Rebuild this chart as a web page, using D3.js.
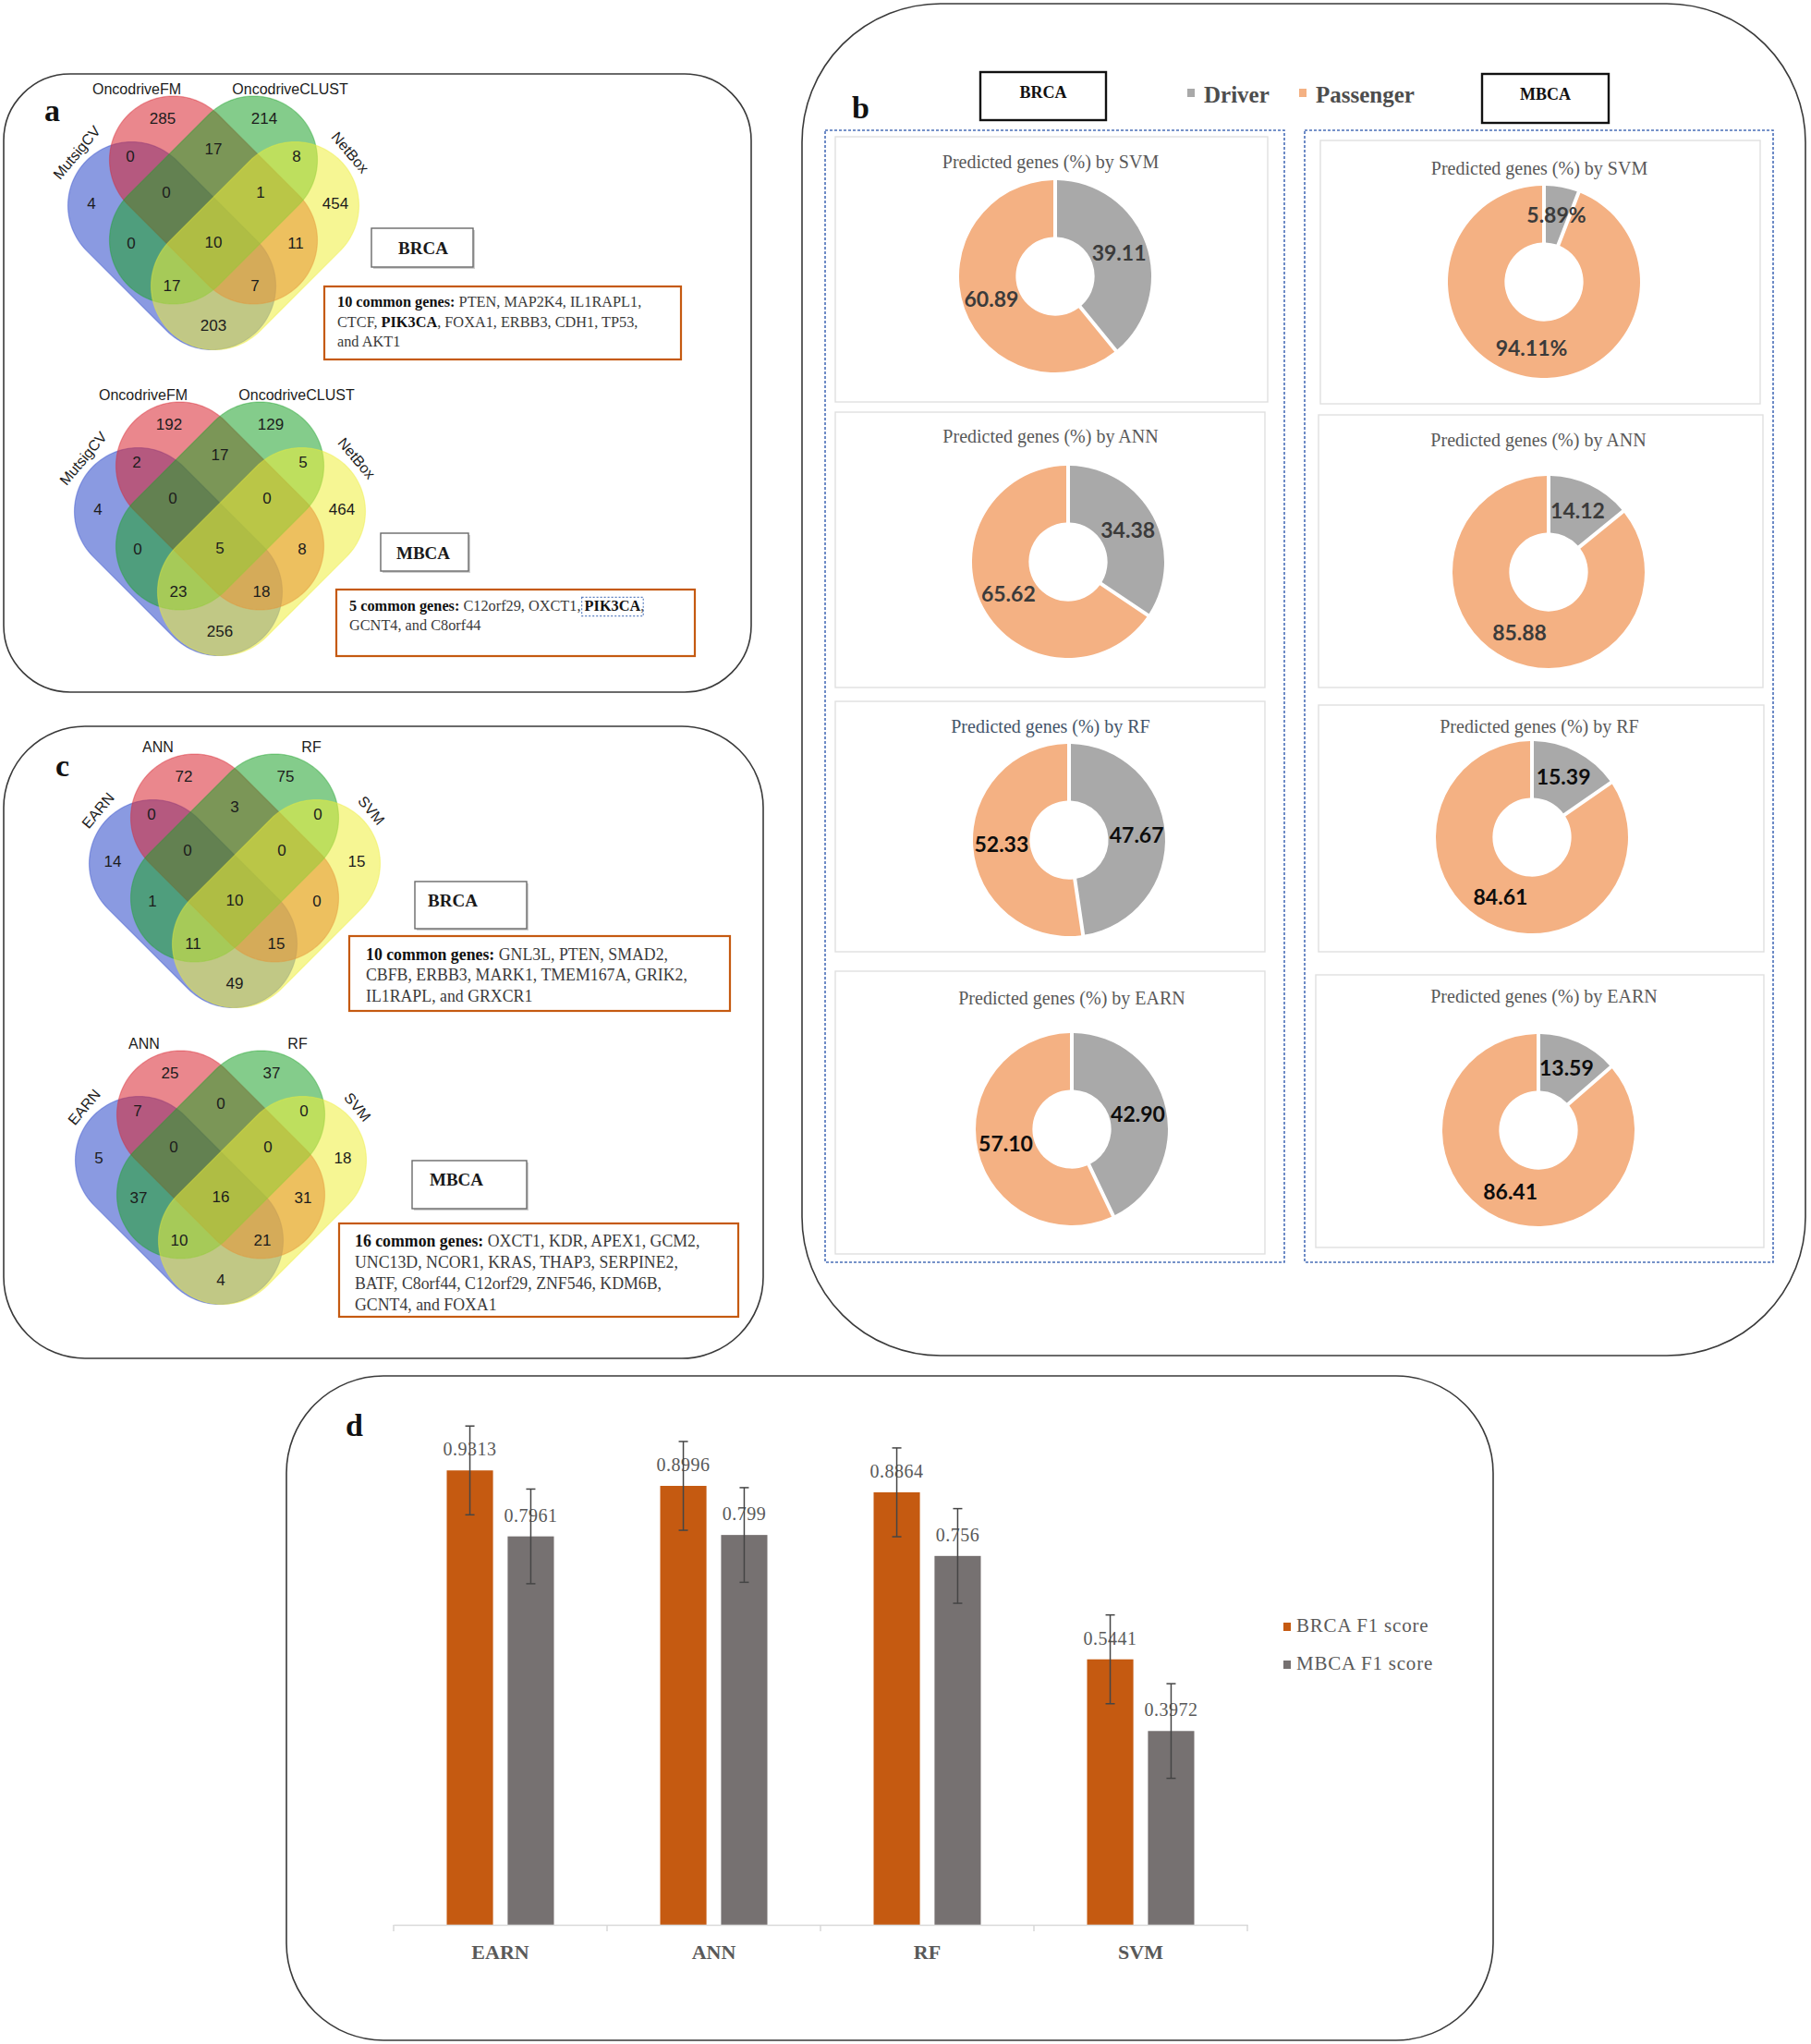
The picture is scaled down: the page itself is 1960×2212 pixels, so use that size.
<!DOCTYPE html>
<html>
<head>
<meta charset="utf-8">
<title>Driver gene prediction summary</title>
<script src="https://d3js.org/d3.v7.min.js"></script>
<style>
body { margin: 0; background: #fff; }
text { white-space: pre; }
</style>
</head>
<body>
<svg id="fig" width="1960" height="2212"></svg>
<script>
// ---------- data ----------
// venn regions: B=left set, R=top-left set, G=top-right set, Y=right set
var regionKeys = ["B","R","G","Y","BR","RG","GY","BG","RY","BY","BRG","RGY","BGY","BRY","BRGY"];

var toolSets = ["MutsigCV","OncodriveFM","OncodriveCLUST","NetBox"];
var brcaToolCounts = [4,285,214,454,0,17,8,0,11,203,0,1,17,7,10];
var mbcaToolCounts = [4,192,129,464,2,17,5,0,8,256,0,0,23,18,5];

var modelSets = ["EARN","ANN","RF","SVM"];
var brcaModelCounts = [14,72,75,15,0,3,0,1,0,49,0,0,11,15,10];
var mbcaModelCounts = [5,25,37,18,7,0,0,37,31,4,0,0,10,21,16];

var donutModels = ["SVM","ANN","RF","EARN"];
var brcaDriver = [39.11,34.38,47.67,42.90];
var brcaPassenger = [60.89,65.62,52.33,57.10];
var mbcaDriver = [5.89,14.12,15.39,13.59];
var mbcaPassenger = [94.11,85.88,84.61,86.41];
var mbcaSuffix = ["%","","",""];

var f1Models = ["EARN","ANN","RF","SVM"];
var f1Series = ["BRCA F1 score","MBCA F1 score"];
var brcaF1 = [0.9313,0.8996,0.8864,0.5441];
var mbcaF1 = [0.7961,0.799,0.756,0.3972];
var brcaF1Err = [0.091,0.091,0.091,0.091];
var mbcaF1Err = [0.097,0.097,0.097,0.097];

// ---------- layout ----------
var svg = d3.select("#fig");
var SERIF = "Liberation Serif, Times New Roman, serif";
var SANS = "Liberation Sans, Arial, sans-serif";

function panel(x, y, w, h, r) {
  svg.append("rect").attr("x", x).attr("y", y).attr("width", w).attr("height", h)
    .attr("rx", r).attr("ry", r)
    .attr("fill", "none").attr("stroke", "#3a3a3a").attr("stroke-width", 1.6);
}
function letter(t, x, y) {
  svg.append("text").attr("x", x).attr("y", y).text(t)
    .attr("font-family", SERIF).attr("font-weight", "bold").attr("font-size", 34).attr("fill", "#111");
}

panel(4, 80, 809, 669, 72);
panel(4, 786, 822, 684, 88);
panel(868, 4, 1086, 1463, 150);
panel(310, 1489, 1306, 719, 105);

letter("a", 48, 131);
letter("b", 922, 128);
letter("c", 60, 840);
letter("d", 374, 1554);

// ---------- venn: four capsules, local px around the four-way region ----------
var vennShapes = [
  {cx: -45, cy: 4, dir: 1, color: "#2a47c9"},
  {cx: 0, cy: -45.5, dir: 1, color: "#d8252f"},
  {cx: 0, cy: -45.5, dir: -1, color: "#1fa32b"},
  {cx: 45, cy: 4, dir: -1, color: "#eeee3a"}
];
var capHalf = 61.5, capR = 69;
var regionPos = {
  B: [-132, -42], R: [-55, -134], G: [55, -134], Y: [132, -42],
  BR: [-90, -93], RG: [0, -101], GY: [90, -93],
  BG: [-89, 1], RY: [89, 1], BY: [0, 90],
  BRG: [-51, -54], RGY: [51, -54], BGY: [-45, 47], BRY: [45, 47],
  BRGY: [0, 0]
};
var setLabelPos = [[-148, -97, -50], [-83, -166, 0], [83, -166, 0], [148, -97, 50]];

function capsulePoints(e) {
  var s = Math.SQRT1_2;
  var dx = s, dy = e.dir * s, nx = -e.dir * s, ny = s;
  var pts = [];
  [1, -1].forEach(function(end) {
    var ex = e.cx + end * capHalf * dx, ey = e.cy + end * capHalf * dy;
    var a0 = end === 1 ? -Math.PI / 2 : Math.PI / 2;
    d3.range(0, 61).forEach(function(k) {
      var a = a0 + Math.PI * k / 60;
      pts.push([ex + capR * (Math.cos(a) * dx + Math.sin(a) * nx),
                ey + capR * (Math.cos(a) * dy + Math.sin(a) * ny)]);
    });
  });
  return pts;
}

function drawVenn(ax, ay, sets, counts) {
  var x = d3.scaleLinear().domain([-200, 200]).range([ax - 200, ax + 200]);
  var y = d3.scaleLinear().domain([-200, 200]).range([ay - 200, ay + 200]);
  var g = svg.append("g");
  var line = d3.line().x(function(d) { return x(d[0]); }).y(function(d) { return y(d[1]); })
    .curve(d3.curveLinearClosed);
  vennShapes.forEach(function(e) {
    g.append("path").attr("d", line(capsulePoints(e)))
      .attr("fill", e.color).attr("fill-opacity", 0.55)
      .attr("stroke", e.color).attr("stroke-opacity", 0.4).attr("stroke-width", 1.2);
  });
  regionKeys.forEach(function(k, i) {
    g.append("text").attr("x", x(regionPos[k][0])).attr("y", y(regionPos[k][1]))
      .attr("dy", "0.35em").attr("text-anchor", "middle")
      .attr("font-family", SANS).attr("font-size", 17).attr("fill", "#1c1c1c")
      .text(counts[i]);
  });
  sets.forEach(function(name, i) {
    var p = setLabelPos[i];
    g.append("text")
      .attr("transform", "translate(" + x(p[0]) + "," + y(p[1]) + ") rotate(" + p[2] + ")")
      .attr("dy", "0.35em").attr("text-anchor", "middle")
      .attr("font-family", SANS).attr("font-size", 16).attr("fill", "#1c1c1c")
      .text(name);
  });
}

drawVenn(231, 262, toolSets, brcaToolCounts);
drawVenn(238, 593, toolSets, mbcaToolCounts);
drawVenn(254, 974, modelSets, brcaModelCounts);
drawVenn(239, 1295, modelSets, mbcaModelCounts);

function labelBox(x, y, w, h, t, tx, ty, size) {
  svg.append("rect").attr("x", x + 2).attr("y", y + 2).attr("width", w).attr("height", h)
    .attr("fill", "#cfcfcf");
  svg.append("rect").attr("x", x).attr("y", y).attr("width", w).attr("height", h)
    .attr("fill", "#fff").attr("stroke", "#6a6a6a").attr("stroke-width", 1.4);
  svg.append("text").attr("x", tx).attr("y", ty).attr("text-anchor", "middle")
    .attr("font-family", SERIF).attr("font-weight", "bold").attr("font-size", size || 19)
    .attr("fill", "#1a1a1a").text(t);
}
labelBox(402, 247, 110, 42, "BRCA", 458, 275);
labelBox(412, 577, 95, 41, "MBCA", 458, 605);
labelBox(449, 954, 121, 51, "BRCA", 490, 981);
labelBox(446, 1256, 124, 52, "MBCA", 494, 1283);

function geneBox(x, y, w, h, tx, baselines, size, lines) {
  svg.append("rect").attr("x", x).attr("y", y).attr("width", w).attr("height", h)
    .attr("fill", "#fff").attr("stroke", "#c55a11").attr("stroke-width", 2.2);
  lines.forEach(function(segs, li) {
    var t = svg.append("text").attr("x", tx).attr("y", baselines[li])
      .attr("font-family", SERIF).attr("font-size", size).attr("fill", "#3a3a3a");
    var pos = tx;
    segs.forEach(function(sg) {
      var sp = t.append("tspan").text(sg[0])
        .attr("font-weight", sg[1] ? "bold" : "normal")
        .attr("fill", sg[1] ? "#111" : "#3a3a3a");
      var len = sp.node().getComputedTextLength();
      if (sg[1] === 2) {
        svg.append("rect").attr("x", pos - 3).attr("y", baselines[li] - size * 0.9)
          .attr("width", len + 6).attr("height", size * 1.25)
          .attr("fill", "none").attr("stroke", "#5b7fc0").attr("stroke-width", 1.2)
          .attr("stroke-dasharray", "2,2");
      }
      pos += len;
    });
  });
}
geneBox(351, 310, 386, 79, 365, [332, 354, 375], 16.3, [
  [["10 common genes: ", 1], ["PTEN, MAP2K4, IL1RAPL1,", 0]],
  [["CTCF, ", 0], ["PIK3CA", 1], [", FOXA1, ERBB3, CDH1, TP53,", 0]],
  [["and AKT1", 0]]
]);
geneBox(364, 638, 388, 72, 378, [661, 682], 16.3, [
  [["5 common genes: ", 1], ["C12orf29, OXCT1, ", 0], ["PIK3CA", 2], [",", 0]],
  [["GCNT4, and C8orf44", 0]]
]);
geneBox(378, 1013, 412, 81, 396, [1039, 1061, 1084], 17.8, [
  [["10 common genes: ", 1], ["GNL3L, PTEN, SMAD2,", 0]],
  [["CBFB, ERBB3, MARK1, TMEM167A, GRIK2,", 0]],
  [["IL1RAPL, and GRXCR1", 0]]
]);
geneBox(367, 1324, 432, 101, 384, [1349, 1372, 1395, 1418], 17.8, [
  [["16 common genes: ", 1], ["OXCT1, KDR, APEX1, GCM2,", 0]],
  [["UNC13D, NCOR1, KRAS, THAP3, SERPINE2,", 0]],
  [["BATF, C8orf44, C12orf29, ZNF546, KDM6B,", 0]],
  [["GCNT4, and FOXA1", 0]]
]);

// ---------- panel b: donuts ----------
var driverColor = "#a9a9a9", passengerColor = "#f4b183";

function headBox(x, y, w, h, t) {
  svg.append("rect").attr("x", x).attr("y", y).attr("width", w).attr("height", h)
    .attr("fill", "#fff").attr("stroke", "#111").attr("stroke-width", 2.4);
  svg.append("text").attr("x", x + w / 2).attr("y", y + 28).attr("text-anchor", "middle")
    .attr("font-family", SERIF).attr("font-weight", "bold").attr("font-size", 18)
    .attr("fill", "#111").text(t);
}
headBox(1061, 78, 136, 52, "BRCA");
headBox(1604, 80, 137, 53, "MBCA");

var legendB = svg.append("g").attr("font-family", SERIF).attr("font-weight", "bold")
  .attr("font-size", 25).attr("fill", "#4d4d4d");
[["Driver", driverColor, 1285, 1303], ["Passenger", passengerColor, 1406, 1424]].forEach(function(d) {
  legendB.append("rect").attr("x", d[2]).attr("y", 96).attr("width", 8).attr("height", 9).attr("fill", d[1]);
  legendB.append("text").attr("x", d[3]).attr("y", 111).text(d[0]);
});

[[893, 141, 497, 1225], [1412, 141, 507, 1225]].forEach(function(b) {
  svg.append("rect").attr("x", b[0]).attr("y", b[1]).attr("width", b[2]).attr("height", b[3])
    .attr("fill", "none").attr("stroke", "#4a6fb8").attr("stroke-width", 1.6)
    .attr("stroke-dasharray", "3,2");
});

var donutCols = [
  {driver: brcaDriver, passenger: brcaPassenger, suffix: ["", "", "", ""],
   boxes: [[904, 148, 468, 287], [904, 446, 465, 298], [904, 759, 465, 271], [904, 1051, 465, 306]],
   titles: [[1137, 182], [1137, 479], [1137, 793], [1160, 1087]],
   centers: [[1142, 299], [1156, 608], [1157, 909], [1160, 1222]]},
  {driver: mbcaDriver, passenger: mbcaPassenger, suffix: mbcaSuffix,
   boxes: [[1429, 152, 476, 285], [1427, 449, 481, 295], [1427, 763, 482, 267], [1424, 1055, 485, 295]],
   titles: [[1666, 189], [1665, 483], [1666, 793], [1671, 1085]],
   centers: [[1671, 305], [1676, 619], [1658, 906], [1665, 1223]]}
];
var titleColors = [["#595959", "#595959", "#44546a", "#595959"], ["#595959", "#595959", "#595959", "#595959"]];
var valueColors = ["#3b3b3b", "#3b3b3b", "#0d0d0d", "#0d0d0d"];

var R = 104;
var pie = d3.pie().sort(null).value(function(d) { return d.v; });
var arc = d3.arc().innerRadius(R * 0.41).outerRadius(R).padAngle(4 / R).padRadius(R);

donutCols.forEach(function(col, ci) {
  donutModels.forEach(function(m, i) {
    var b = col.boxes[i];
    svg.append("rect").attr("x", b[0]).attr("y", b[1]).attr("width", b[2]).attr("height", b[3])
      .attr("fill", "#fff").attr("stroke", "#e0e0e0").attr("stroke-width", 1.4);
    svg.append("text").attr("x", col.titles[i][0]).attr("y", col.titles[i][1])
      .attr("text-anchor", "middle").attr("font-family", SERIF).attr("font-size", 20)
      .attr("fill", titleColors[ci][i]).text("Predicted genes (%) by " + m);
    var g = svg.append("g").attr("transform", "translate(" + col.centers[i][0] + "," + col.centers[i][1] + ")");
    var arcs = pie([{v: col.driver[i], c: driverColor}, {v: col.passenger[i], c: passengerColor}]);
    g.selectAll("path").data(arcs).join("path")
      .attr("d", arc).attr("fill", function(d) { return d.data.c; });
    g.selectAll("text").data(arcs).join("text")
      .attr("transform", function(d) { return "translate(" + arc.centroid(d) + ")"; })
      .attr("dy", "0.35em").attr("text-anchor", "middle")
      .attr("font-family", "Lato, Open Sans, sans-serif").attr("font-weight", "bold")
      .attr("font-size", 23).attr("fill", valueColors[i])
      .text(function(d) { return d.data.v.toFixed(2) + col.suffix[i]; });
  });
});

// ---------- panel d: F1 bars ----------
var x0 = d3.scaleBand().domain(f1Models).range([426, 1350]);
var x1 = d3.scaleBand().domain(f1Series).range([-58, 58]).paddingInner(0.24);
var yF = d3.scaleLinear().domain([0, 1]).range([2083, 1555]);
var barColors = {"BRCA F1 score": "#c55a11", "MBCA F1 score": "#767171"};

var barData = [];
f1Models.forEach(function(m, i) {
  barData.push({m: m, s: f1Series[0], v: brcaF1[i], e: brcaF1Err[i]});
  barData.push({m: m, s: f1Series[1], v: mbcaF1[i], e: mbcaF1Err[i]});
});
function bx(d) { return x0(d.m) + x0.bandwidth() / 2 + x1(d.s); }

var gd = svg.append("g");
gd.selectAll("rect.bar").data(barData).join("rect").attr("class", "bar")
  .attr("x", bx).attr("width", x1.bandwidth())
  .attr("y", function(d) { return yF(d.v); })
  .attr("height", function(d) { return yF(0) - yF(d.v); })
  .attr("fill", function(d) { return barColors[d.s]; });

// axis
var axis = gd.append("g").attr("transform", "translate(0," + yF(0) + ")")
  .call(d3.axisBottom(x0).tickSize(0).tickPadding(21));
axis.select(".domain").attr("stroke", "#d9d9d9").attr("stroke-width", 1.5);
axis.selectAll("text").attr("font-family", SERIF).attr("font-weight", "bold")
  .attr("font-size", 22).attr("fill", "#595959");
d3.range(f1Models.length + 1).forEach(function(k) {
  var xx = 426 + k * x0.step();
  axis.append("line").attr("x1", xx).attr("x2", xx).attr("y1", 0).attr("y2", 7)
    .attr("stroke", "#d9d9d9").attr("stroke-width", 1.5);
});

// value labels
gd.selectAll("text.val").data(barData).join("text").attr("class", "val")
  .attr("x", function(d) { return bx(d) + x1.bandwidth() / 2; })
  .attr("y", function(d) { return yF(d.v) - 16; })
  .attr("text-anchor", "middle").attr("font-family", SERIF).attr("font-size", 20)
  .attr("letter-spacing", 0.5).attr("fill", "#595959")
  .text(function(d) { return String(d.v); });

// error bars
var eg = gd.selectAll("g.err").data(barData).join("g").attr("class", "err")
  .attr("stroke", "#454545").attr("stroke-width", 1.5);
eg.append("line")
  .attr("x1", function(d) { return bx(d) + x1.bandwidth() / 2; })
  .attr("x2", function(d) { return bx(d) + x1.bandwidth() / 2; })
  .attr("y1", function(d) { return yF(d.v + d.e); })
  .attr("y2", function(d) { return yF(d.v - d.e); });
[1, -1].forEach(function(sgn) {
  eg.append("line")
    .attr("x1", function(d) { return bx(d) + x1.bandwidth() / 2 - 5; })
    .attr("x2", function(d) { return bx(d) + x1.bandwidth() / 2 + 5; })
    .attr("y1", function(d) { return yF(d.v + sgn * d.e); })
    .attr("y2", function(d) { return yF(d.v + sgn * d.e); });
});

// legend
var lg = svg.append("g").attr("font-family", SERIF).attr("font-size", 21)
  .attr("letter-spacing", 0.8).attr("fill", "#595959");
f1Series.forEach(function(s, i) {
  lg.append("rect").attr("x", 1389).attr("y", 1756 + i * 41).attr("width", 8).attr("height", 9)
    .attr("fill", barColors[s]);
  lg.append("text").attr("x", 1403).attr("y", 1766 + i * 41).text(s);
});
</script>
</body>
</html>
